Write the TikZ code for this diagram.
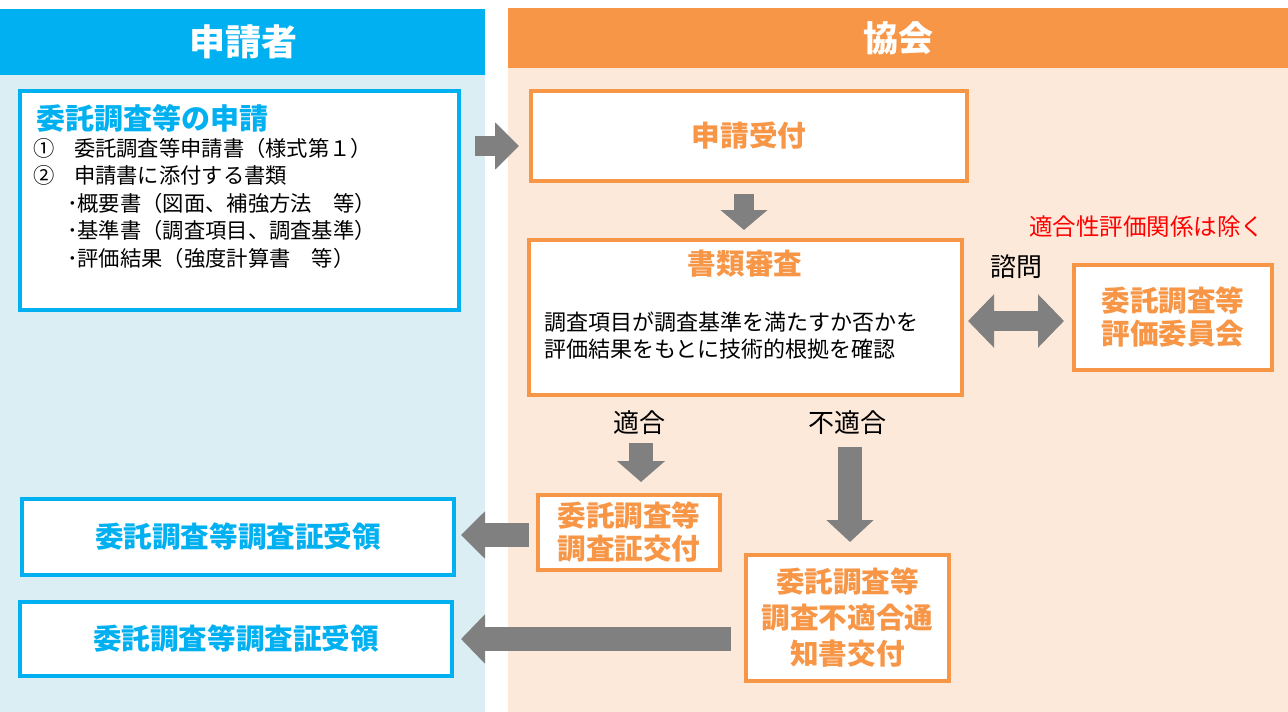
\documentclass[tikz,border=0pt]{standalone}
\usepackage{fontspec}
\setmainfont{Noto Sans CJK JP}
\usetikzlibrary{arrows.meta}
\definecolor{hblue}{HTML}{00B0F0}
\definecolor{lblue}{HTML}{DAEEF3}
\definecolor{horange}{HTML}{F79646}
\definecolor{lorange}{HTML}{FDE9D9}
\definecolor{agray}{HTML}{808080}
\definecolor{nred}{HTML}{FF0000}
\begin{document}
\begin{tikzpicture}[x=1pt,y=-1pt,
  bbox/.style={draw=hblue,line width=4pt,fill=white,rectangle,inner sep=0pt},
  obox/.style={draw=horange,line width=4pt,fill=white,rectangle,inner sep=0pt},
  txt/.style={inner sep=0pt,outer sep=0pt},
  headtxt/.style={txt,text=white,font=\bfseries\fontsize{36}{40}\selectfont},
  btitle/.style={text=hblue,font=\bfseries\fontsize{28.6}{33}\selectfont,align=center},
  otitle/.style={text=horange,font=\bfseries\fontsize{28.6}{33}\selectfont,align=center},
  bodytxt/.style={txt,text=black,font=\fontsize{21.3}{24}\selectfont},
  revtxt/.style={txt,text=black,font=\fontsize{22}{26}\selectfont},
  labtxt/.style={txt,text=black,font=\fontsize{26}{28}\selectfont},
  fat/.style args={#1/#2/#3}{draw=agray,line width=#1,-{Triangle[width=#2,length=#3]}},
  dfat/.style args={#1/#2/#3}{draw=agray,line width=#1,{Triangle[width=#2,length=#3]}-{Triangle[width=#2,length=#3]}}
]
\useasboundingbox (0,0) rectangle (1288,712);
% panels
\fill[lblue] (0,75) rectangle (485,712);
\fill[hblue] (0,9) rectangle (485,75);
\fill[lorange] (508,68) rectangle (1288,712);
\fill[horange] (508,8) rectangle (1288,68);
\node[headtxt] (hleft) at (243,42) {申請者};
\node[headtxt,font=\bfseries\fontsize{35}{40}\selectfont] (hright) at (898,38) {協会};

% boxes
\node[bbox,minimum width=439pt,minimum height=219pt] (apply) at (239.5,200.5) {};
\node[obox,minimum width=436pt,minimum height=90pt,otitle] (recv) at (749,136) {申請受付};
\node[obox,minimum width=433pt,minimum height=155pt] (review) at (745.5,317.5) {};
\node[obox,minimum width=198pt,minimum height=105pt,otitle] (comm) at (1173,317.5) {委託調査等\\評価委員会};
\node[obox,minimum width=182pt,minimum height=75pt,otitle] (cert) at (629,532.5) {委託調査等\\調査証交付};
\node[obox,minimum width=203pt,minimum height=126pt,otitle,font=\bfseries\fontsize{28.6}{36}\selectfont] (rej) at (847.5,618) {委託調査等\\調査不適合通\\知書交付};
\node[bbox,minimum width=432pt,minimum height=76pt,btitle] (rcv1) at (238,537) {委託調査等調査証受領};
\node[bbox,minimum width=432pt,minimum height=74pt,btitle] (rcv2) at (236,639) {委託調査等調査証受領};

% application box text
\node[txt,anchor=west,text=hblue,font=\bfseries\fontsize{29}{33}\selectfont] (aptitle) at (36,118) {委託調査等の申請};
\node[bodytxt,anchor=west] (n1) at (34,148) {①};
\node[bodytxt,anchor=west] (l1) at (74,148) {委託調査等申請書（様式第１）};
\node[bodytxt,anchor=west] (n2) at (34,175) {②};
\node[bodytxt,anchor=west] (l2) at (74,175) {申請書に添付する書類};
\node[bodytxt,anchor=west] (l3) at (67,203) {･概要書（図面、補強方法　等）};
\node[bodytxt,anchor=west] (l4) at (67,230) {･基準書（調査項目、調査基準）};
\node[bodytxt,anchor=west] (l5) at (67,258) {･評価結果（強度計算書　等）};

% review box text
\node[txt,otitle] (revtitle) at (745,264) {書類審査};
\node[revtxt,anchor=west] (r1) at (544,322) {調査項目が調査基準を満たすか否かを};
\node[revtxt,anchor=west] (r2) at (544,349) {評価結果をもとに技術的根拠を確認};

% labels
\node[txt,anchor=east,text=nred,font=\fontsize{23.5}{26}\selectfont] (note) at (1264,227) {適合性評価関係は除く};
\node[labtxt] (shimon) at (1016,267) {諮問};
\node[labtxt] (tekigo) at (639,423) {適合};
\node[labtxt] (futekigo) at (847,423) {不適合};

% helper coordinates
\coordinate (y1) at (0,146);
\coordinate (x2) at (744,0);
\coordinate (y3) at (0,321);
\coordinate (s4) at (641,443);
\coordinate (s5) at (850,447);
\coordinate (y6) at (0,535);
\coordinate (y7) at (0,639);

% arrows
\draw[fat=20pt/46pt/24pt,shorten <=14pt,shorten >=10pt] (apply.east |- y1) -- (recv.west |- y1);
\draw[fat=20pt/46pt/20pt,shorten <=11pt,shorten >=8pt] (recv.south -| x2) -- (review.north -| x2);
\draw[dfat=20pt/52pt/26pt,shorten <=4pt,shorten >=8pt] (review.east |- y3) -- (comm.west |- y3);
\draw[fat=24pt/47pt/21pt,shorten >=11pt] (s4) -- (cert.north -| s4);
\draw[fat=24pt/46pt/22pt,shorten >=11pt] (s5) -- (rej.north -| s5);
\draw[fat=24pt/46pt/24pt,shorten <=7pt,shorten >=5pt] (cert.west |- y6) -- (rcv1.east |- y6);
\draw[fat=24pt/48pt/24pt,shorten <=13pt,shorten >=7pt] (rej.west |- y7) -- (rcv2.east |- y7);
\end{tikzpicture}
\end{document}
